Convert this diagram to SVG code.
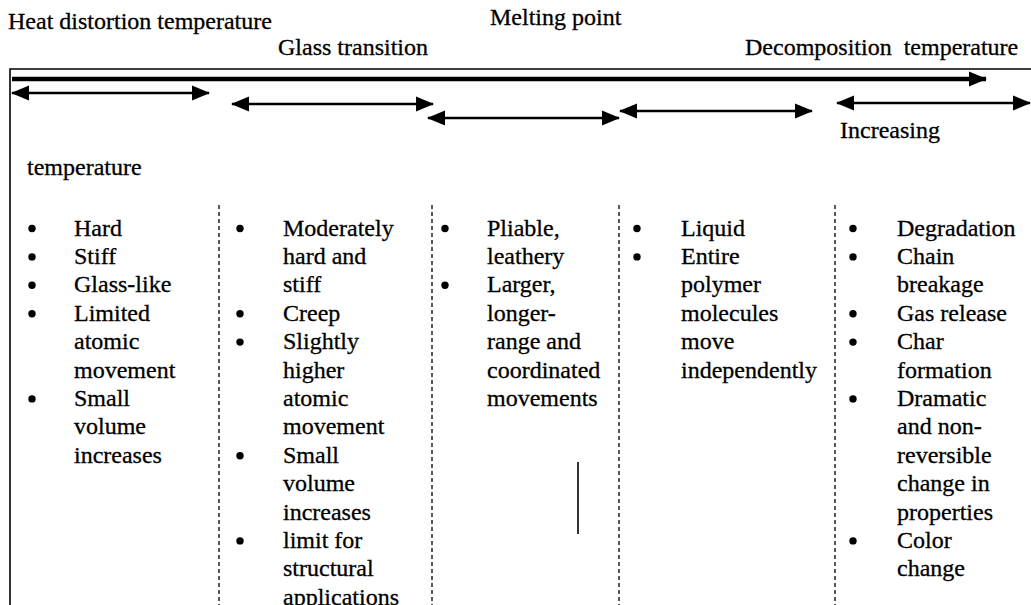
<svg xmlns="http://www.w3.org/2000/svg" width="1031" height="605" viewBox="0 0 1031 605">
<defs>
<style>
text{font-family:"Liberation Serif","Times New Roman",serif;font-size:24px;fill:#000;stroke:#000;stroke-width:0.3;white-space:pre}
.frame{stroke:#000;stroke-width:1.6;fill:none}
.arr{stroke:#000;stroke-width:2.6;fill:none}
.thick{stroke:#000;stroke-width:4.5;fill:none}
.dash{stroke:#000;stroke-width:1.3;stroke-dasharray:4 3;fill:none}
.solid{stroke:#000;stroke-width:1.6;fill:none}
.b{fill:#000}
</style>
<marker id="ah" markerUnits="userSpaceOnUse" markerWidth="18" markerHeight="16" refX="17" refY="8" orient="auto-start-reverse"><path d="M0,0.5 L18,8 L0,15.5 z" fill="#000"/></marker>
<marker id="ahT" markerUnits="userSpaceOnUse" markerWidth="18" markerHeight="16" refX="17" refY="8" orient="auto"><path d="M0,0.5 L18,8 L0,15.5 z" fill="#000"/></marker>
</defs>
<rect width="1031" height="605" fill="#fff"/>

<g id="labels">
<text x="8" y="29">Heat distortion temperature</text>
<text x="490" y="25">Melting point</text>
<text x="278" y="55">Glass transition</text>
<text x="745" y="55">Decomposition  temperature</text>
<text x="840" y="138">Increasing</text>
<text x="27" y="175">temperature</text>
</g>

<g id="frame">
<path class="frame" d="M10,605 V69 H1031"/>
</g>

<g id="connectors">
<path class="thick" d="M12,79 H986" marker-end="url(#ahT)"/>
<path class="arr" d="M12,93 H209" marker-start="url(#ah)" marker-end="url(#ah)"/>
<path class="arr" d="M232,104 H433" marker-start="url(#ah)" marker-end="url(#ah)"/>
<path class="arr" d="M428,118 H619" marker-start="url(#ah)" marker-end="url(#ah)"/>
<path class="arr" d="M620,111 H812" marker-start="url(#ah)" marker-end="url(#ah)"/>
<path class="arr" d="M837,103 H1030" marker-start="url(#ah)" marker-end="url(#ah)"/>
</g>

<g id="separators">
<path class="dash" d="M219,205 V605"/>
<path class="dash" d="M432,205 V605"/>
<path class="dash" d="M619,205 V605"/>
<path class="dash" d="M835,205 V605"/>
<path class="solid" d="M578,462 V534"/>
</g>

<g id="col1">
<circle class="b" cx="32" cy="228.5" r="3.7"/>
<circle class="b" cx="32" cy="256.9" r="3.7"/>
<circle class="b" cx="32" cy="285.3" r="3.7"/>
<circle class="b" cx="32" cy="313.7" r="3.7"/>
<circle class="b" cx="32" cy="398.9" r="3.7"/>
<text x="74" y="235.5">Hard</text>
<text x="74" y="263.9">Stiff</text>
<text x="74" y="292.3">Glass-like</text>
<text x="74" y="320.7">Limited</text>
<text x="74" y="349.1">atomic</text>
<text x="74" y="377.5">movement</text>
<text x="74" y="405.9">Small</text>
<text x="74" y="434.3">volume</text>
<text x="74" y="462.7">increases</text>
</g>

<g id="col2">
<circle class="b" cx="240" cy="228.5" r="3.7"/>
<circle class="b" cx="240" cy="313.7" r="3.7"/>
<circle class="b" cx="240" cy="342.1" r="3.7"/>
<circle class="b" cx="240" cy="455.7" r="3.7"/>
<circle class="b" cx="240" cy="540.9" r="3.7"/>
<text x="283" y="235.5">Moderately</text>
<text x="283" y="263.9">hard and</text>
<text x="283" y="292.3">stiff</text>
<text x="283" y="320.7">Creep</text>
<text x="283" y="349.1">Slightly</text>
<text x="283" y="377.5">higher</text>
<text x="283" y="405.9">atomic</text>
<text x="283" y="434.3">movement</text>
<text x="283" y="462.7">Small</text>
<text x="283" y="491.1">volume</text>
<text x="283" y="519.5">increases</text>
<text x="283" y="547.9">limit for</text>
<text x="283" y="576.3">structural</text>
<text x="283" y="604.7">applications</text>
</g>

<g id="col3">
<circle class="b" cx="445" cy="228.5" r="3.7"/>
<circle class="b" cx="445" cy="285.3" r="3.7"/>
<text x="487" y="235.5">Pliable,</text>
<text x="487" y="263.9">leathery</text>
<text x="487" y="292.3">Larger,</text>
<text x="487" y="320.7">longer-</text>
<text x="487" y="349.1">range and</text>
<text x="487" y="377.5">coordinated</text>
<text x="487" y="405.9">movements</text>
</g>

<g id="col4">
<circle class="b" cx="637" cy="228.5" r="3.7"/>
<circle class="b" cx="637" cy="256.9" r="3.7"/>
<text x="681" y="235.5">Liquid</text>
<text x="681" y="263.9">Entire</text>
<text x="681" y="292.3">polymer</text>
<text x="681" y="320.7">molecules</text>
<text x="681" y="349.1">move</text>
<text x="681" y="377.5">independently</text>
</g>

<g id="col5">
<circle class="b" cx="853" cy="228.5" r="3.7"/>
<circle class="b" cx="853" cy="256.9" r="3.7"/>
<circle class="b" cx="853" cy="313.7" r="3.7"/>
<circle class="b" cx="853" cy="342.1" r="3.7"/>
<circle class="b" cx="853" cy="398.9" r="3.7"/>
<circle class="b" cx="853" cy="540.9" r="3.7"/>
<text x="897" y="235.5">Degradation</text>
<text x="897" y="263.9">Chain</text>
<text x="897" y="292.3">breakage</text>
<text x="897" y="320.7">Gas release</text>
<text x="897" y="349.1">Char</text>
<text x="897" y="377.5">formation</text>
<text x="897" y="405.9">Dramatic</text>
<text x="897" y="434.3">and non-</text>
<text x="897" y="462.7">reversible</text>
<text x="897" y="491.1">change in</text>
<text x="897" y="519.5">properties</text>
<text x="897" y="547.9">Color</text>
<text x="897" y="576.3">change</text>
</g>
</svg>
